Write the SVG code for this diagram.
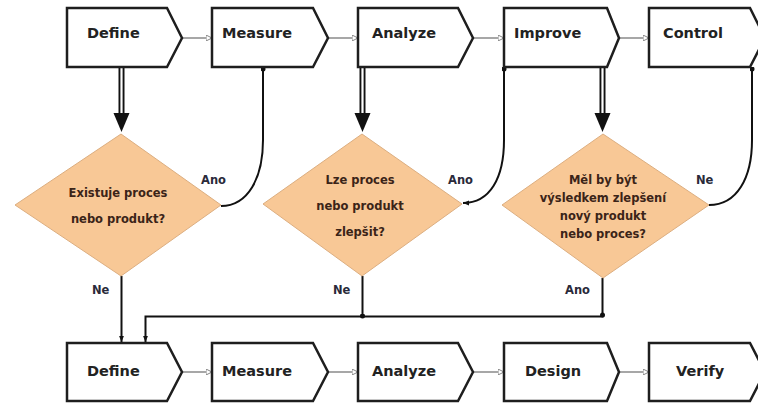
<svg xmlns="http://www.w3.org/2000/svg" width="758" height="405" viewBox="0 0 758 405">
<defs>
<style>
.box{fill:#fff;stroke:#1e1e1e;stroke-width:2.5;stroke-linejoin:miter}
.bt{font-family:"DejaVu Sans",Verdana,sans-serif;font-weight:bold;font-size:14.5px;fill:#222}
.dia{fill:#f8c896;stroke:#dcae80;stroke-width:1}
.dt{font-family:"DejaVu Sans",Verdana,sans-serif;font-weight:bold;font-size:11.5px;fill:#3b2418;text-anchor:middle}
.lbl{font-family:"DejaVu Sans",Verdana,sans-serif;font-weight:bold;font-size:11.5px;fill:#2a2a3a}
.seq{fill:none;stroke:#777;stroke-width:1.3;marker-end:url(#open)}
.dbl{fill:none;stroke:#111;stroke-width:6}
.dbli{fill:none;stroke:#fff;stroke-width:2.2}
.ln{fill:none;stroke:#111;stroke-width:2}
</style>
<marker id="open" viewBox="0 0 10 10" refX="10" refY="5" markerWidth="6" markerHeight="6" markerUnits="userSpaceOnUse" orient="auto">
<path d="M0,0 L10,5 L0,10 Z" fill="#fff" stroke="#777" stroke-width="1.5"/>
</marker>
<marker id="big" viewBox="0 0 16 19" refX="8" refY="19" markerWidth="16" markerHeight="19" markerUnits="userSpaceOnUse" orient="auto-start-reverse">
<path d="M0,0 H16 L8,19 Z" fill="#111"/>
</marker>
<marker id="sm" viewBox="0 0 10 10" refX="10" refY="5" markerWidth="6" markerHeight="6" markerUnits="userSpaceOnUse" orient="auto">
<path d="M0,1 L10,5 L0,9 Z" fill="#111"/>
</marker>
<marker id="dot" viewBox="0 0 6 6" refX="3" refY="3" markerWidth="5" markerHeight="5" markerUnits="userSpaceOnUse">
<circle cx="3" cy="3" r="3" fill="#111"/>
</marker>
</defs>

<g id="connectors">
<path class="seq" d="M182,38 H212"/>
<path class="seq" d="M328,38 H358"/>
<path class="seq" d="M473,38 H504"/>
<path class="seq" d="M619,38 H649"/>
<path class="seq" d="M182,372 H212"/>
<path class="seq" d="M328,372 H358"/>
<path class="seq" d="M473,372 H504"/>
<path class="seq" d="M619,372 H649"/>

<path class="dbl" d="M121.5,68 V114"/>
<path class="dbli" d="M121.5,68 V114"/>
<path d="M113.5,113 H129.5 L121.5,132 Z" fill="#111"/>
<path class="dbl" d="M362.5,68 V114"/>
<path class="dbli" d="M362.5,68 V114"/>
<path d="M354.5,113 H370.5 L362.5,132 Z" fill="#111"/>
<path class="dbl" d="M602.5,68 V114"/>
<path class="dbli" d="M602.5,68 V114"/>
<path d="M594.5,113 H610.5 L602.5,132 Z" fill="#111"/>

<path class="ln" d="M221,206 C248,206 263,178 263,140 V69" marker-end="url(#dot)"/>
<path class="ln" d="M504,69 V140 C504,178 490,203 463,203" marker-start="url(#dot)" marker-end="url(#sm)"/>
<path class="ln" d="M709,205 C737,205 752,178 752,140 V69" marker-end="url(#dot)"/>

<path class="ln" d="M121.5,276 V342" marker-end="url(#sm)"/>
<path class="ln" d="M362.5,276 V316" marker-end="url(#dot)"/>
<path class="ln" d="M602.5,278 V316.5 H145.5 V342" marker-end="url(#sm)"/>
<circle cx="602.5" cy="315" r="2.5" fill="#111"/>
</g>

<g id="n-define1"><path class="box" d="M67,8 H167 L182,38 L167,67 H67 Z"/><text class="bt" x="87" y="38">Define</text></g>
<g id="n-measure1"><path class="box" d="M212,8 H313 L328,38 L313,67 H212 Z"/><text class="bt" x="222" y="38">Measure</text></g>
<g id="n-analyze1"><path class="box" d="M358,8 H458 L473,38 L458,67 H358 Z"/><text class="bt" x="372" y="38">Analyze</text></g>
<g id="n-improve"><path class="box" d="M504,8 H607 L619,38 L607,67 H504 Z"/><text class="bt" x="514" y="38">Improve</text></g>
<g id="n-control"><path class="box" d="M649,8 H750 L765,38 L750,67 H649 Z"/><text class="bt" x="663" y="38">Control</text></g>

<g id="n-q1"><path class="dia" d="M121,134 L221,205 L121,276 L15,205 Z"/>
<text class="dt" x="118" y="197">Existuje proces</text>
<text class="dt" x="118" y="223">nebo produkt?</text></g>
<g id="n-q2"><path class="dia" d="M362,134 L462,204 L362,276 L263,204 Z"/>
<text class="dt" x="360" y="184">Lze proces</text>
<text class="dt" x="360" y="210">nebo produkt</text>
<text class="dt" x="360" y="236">zlepšit?</text></g>
<g id="n-q3"><path class="dia" d="M603,134 L709,205 L603,278 L502,205 Z"/>
<text class="dt" x="603" y="184">Měl by být</text>
<text class="dt" x="603" y="202">výsledkem zlepšení</text>
<text class="dt" x="603" y="220">nový produkt</text>
<text class="dt" x="603" y="238">nebo proces?</text></g>

<g id="labels">
<text class="lbl" x="201" y="184">Ano</text>
<text class="lbl" x="448" y="184">Ano</text>
<text class="lbl" x="696" y="184">Ne</text>
<text class="lbl" x="92" y="294">Ne</text>
<text class="lbl" x="333" y="294">Ne</text>
<text class="lbl" x="565" y="294">Ano</text>
</g>

<g id="n-define2"><path class="box" d="M67,343 H167 L182,372 L167,401 H67 Z"/><text class="bt" x="87" y="376">Define</text></g>
<g id="n-measure2"><path class="box" d="M212,343 H313 L328,372 L313,401 H212 Z"/><text class="bt" x="222" y="376">Measure</text></g>
<g id="n-analyze2"><path class="box" d="M358,343 H458 L473,372 L458,401 H358 Z"/><text class="bt" x="372" y="376">Analyze</text></g>
<g id="n-design"><path class="box" d="M504,343 H607 L619,372 L607,401 H504 Z"/><text class="bt" x="525" y="376">Design</text></g>
<g id="n-verify"><path class="box" d="M649,343 H750 L765,372 L750,401 H649 Z"/><text class="bt" x="676" y="376">Verify</text></g>
</svg>
